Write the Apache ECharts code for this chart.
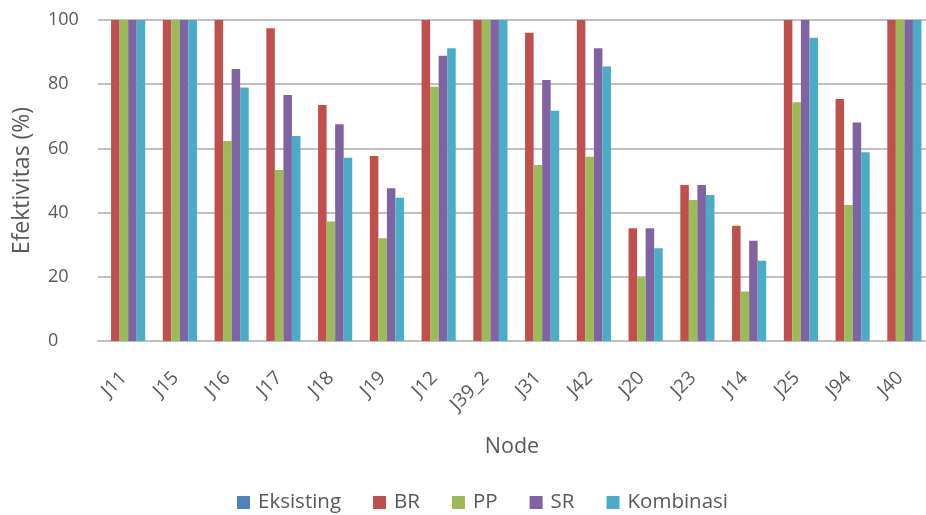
<!DOCTYPE html>
<html>
<head>
<meta charset="utf-8">
<script src="https://cdn.jsdelivr.net/npm/echarts@6/dist/echarts.min.js"></script>
<style>
  html, body { margin: 0; padding: 0; background: #fff; }
  #chart { width: 926px; height: 515px; }
</style>
</head>
<body>
<div id="chart"></div>
<script>
// Node names along the x axis
const nodes = ['J11', 'J15', 'J16', 'J17', 'J18', 'J19', 'J12', 'J39_2', 'J31', 'J42', 'J20', 'J23', 'J14', 'J25', 'J94', 'J40'];

// Effectiveness (%) per scenario
const eksisting = [0, 0, 0, 0, 0, 0, 0, 0, 0, 0, 0, 0, 0, 0, 0, 0];
const br        = [100, 100, 100, 97.4, 73.5, 57.6, 100, 100, 96.0, 100, 35.1, 48.6, 35.9, 100, 75.4, 100];
const pp        = [100, 100, 62.3, 53.3, 37.2, 32.0, 79.2, 100, 54.8, 57.4, 19.8, 43.9, 15.4, 74.4, 42.4, 100];
const sr        = [100, 100, 84.7, 76.6, 67.5, 47.6, 88.9, 100, 81.3, 91.2, 35.1, 48.6, 31.2, 100, 68.1, 100];
const kombinasi = [100, 100, 79.0, 63.9, 57.1, 44.6, 91.2, 100, 71.7, 85.5, 28.9, 45.5, 25.0, 94.5, 58.8, 100];

// y-axis ticks
const yTicks = [0, 20, 40, 60, 80, 100];

const FONT = '"Open Sans", "Noto Sans", sans-serif';
const TEXT = '#595959';
const GRID = '#c0c0c0';

const seriesDefs = [
  { name: 'Eksisting', data: eksisting, color: '#4f81bd' },
  { name: 'BR',        data: br,        color: '#c0504d' },
  { name: 'PP',        data: pp,        color: '#9bbb59' },
  { name: 'SR',        data: sr,        color: '#8064a2' },
  { name: 'Kombinasi', data: kombinasi, color: '#4bacc6' }
];

const chart = echarts.init(document.getElementById('chart'), null, { renderer: 'canvas' });

chart.setOption({
  animation: false,
  backgroundColor: '#ffffff',
  textStyle: { fontFamily: FONT },
  grid: { left: 98, top: 20, width: 836, height: 321, containLabel: false },
  legend: {
    left: 232,
    top: 487,
    icon: 'rect',
    itemWidth: 13,
    itemHeight: 13,
    itemGap: 32,
    textStyle: { fontFamily: FONT, fontSize: 20.5, color: TEXT, padding: [0, 0, 0, 3] },
    data: seriesDefs.map(s => s.name)
  },
  xAxis: {
    type: 'category',
    data: nodes,
    name: 'Node',
    nameLocation: 'middle',
    nameGap: 95,
    nameTextStyle: { fontFamily: FONT, fontSize: 21.5, color: TEXT },
    axisLine: { lineStyle: { color: GRID, width: 2 } },
    axisTick: { show: false },
    axisLabel: {
      interval: 0,
      rotate: 45,
      margin: 34,
      fontFamily: FONT,
      fontSize: 19,
      color: TEXT
    }
  },
  yAxis: {
    type: 'value',
    min: yTicks[0],
    max: yTicks[yTicks.length - 1],
    interval: yTicks[1] - yTicks[0],
    name: 'Efektivitas (%)',
    nameLocation: 'middle',
    nameGap: 64,
    nameTextStyle: { fontFamily: FONT, fontSize: 23, color: TEXT },
    axisLine: { show: false },
    axisTick: { show: false },
    axisLabel: {
      align: 'left',
      margin: 50,
      fontFamily: FONT,
      fontSize: 18,
      color: TEXT
    },
    splitLine: { lineStyle: { color: GRID, width: 2 } }
  },
  series: seriesDefs.map(s => ({
    name: s.name,
    type: 'bar',
    data: s.data,
    barGap: '0%',
    barCategoryGap: '17.5%',
    itemStyle: { color: s.color },
    emphasis: { disabled: true }
  }))
});
</script>
</body>
</html>
